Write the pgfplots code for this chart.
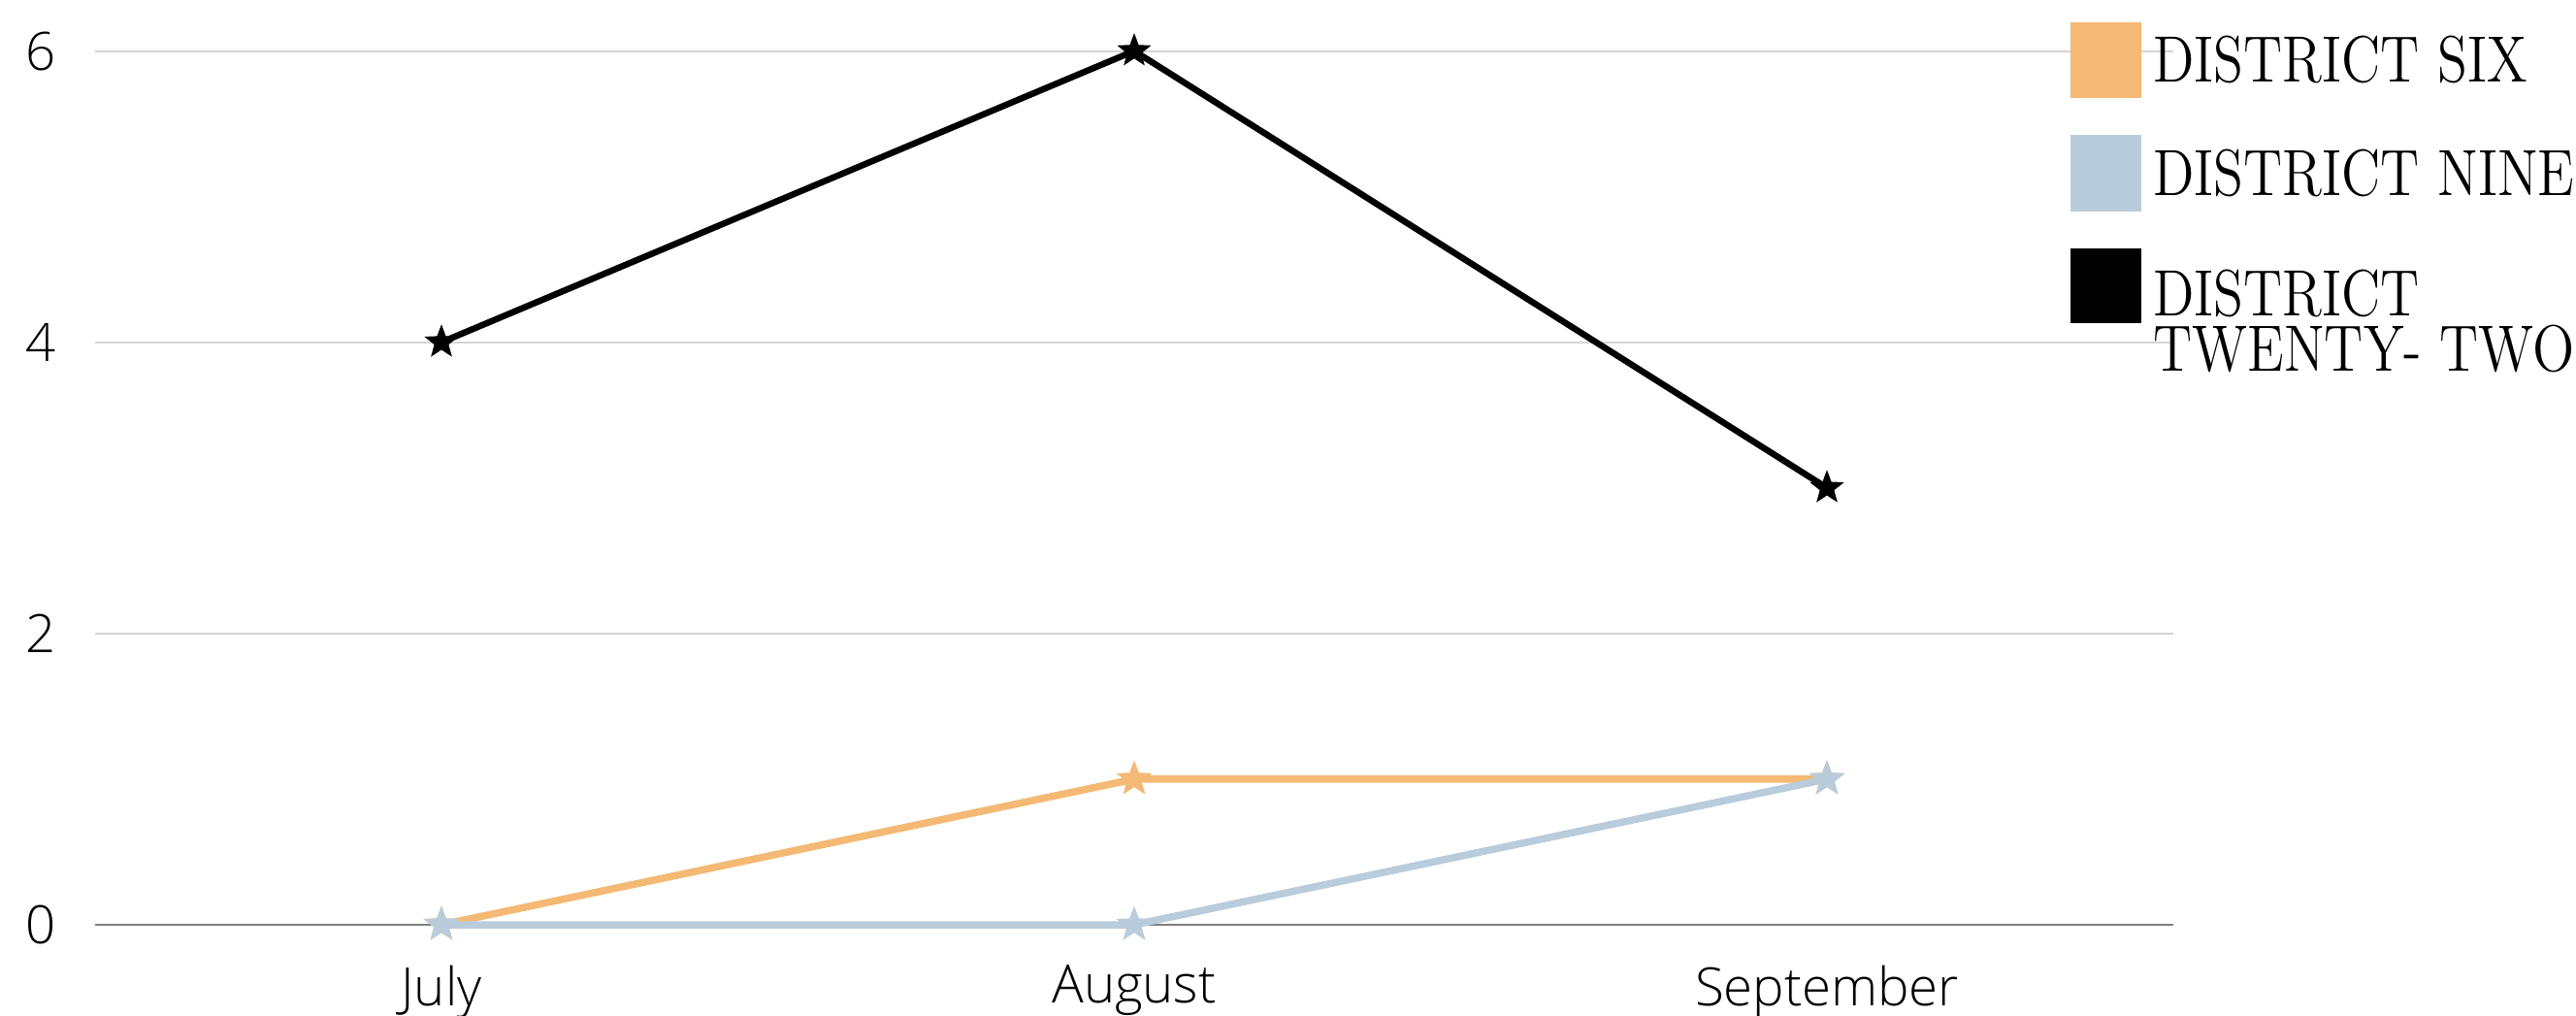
\documentclass[border=0pt]{standalone}
\usepackage{fontspec}
\usepackage{pgfplots}
\pgfplotsset{compat=1.18}
\IfFontExistsTF{Open Sans Light}{\newfontfamily\tickfont{Open Sans Light}}{\newfontfamily\tickfont{Open Sans}}
\newfontfamily\legendfont{Latin Modern Roman}[FakeStretch=0.84]
\definecolor{sixcol}{HTML}{F4B974}
\definecolor{ninecol}{HTML}{B8CCDB}
\definecolor{gridcol}{HTML}{D4D4D4}
\definecolor{zerocol}{HTML}{7F7F7F}

% filled five-pointed star
\pgfdeclareplotmark{fivestar}{%
  \pgfpathmoveto{\pgfqpointpolar{90}{\pgfplotmarksize}}%
  \pgfpathlineto{\pgfqpointpolar{126}{0.42\pgfplotmarksize}}%
  \pgfpathlineto{\pgfqpointpolar{162}{\pgfplotmarksize}}%
  \pgfpathlineto{\pgfqpointpolar{198}{0.42\pgfplotmarksize}}%
  \pgfpathlineto{\pgfqpointpolar{234}{\pgfplotmarksize}}%
  \pgfpathlineto{\pgfqpointpolar{270}{0.42\pgfplotmarksize}}%
  \pgfpathlineto{\pgfqpointpolar{306}{\pgfplotmarksize}}%
  \pgfpathlineto{\pgfqpointpolar{342}{0.42\pgfplotmarksize}}%
  \pgfpathlineto{\pgfqpointpolar{18}{\pgfplotmarksize}}%
  \pgfpathlineto{\pgfqpointpolar{54}{0.42\pgfplotmarksize}}%
  \pgfpathclose
  \pgfusepathqfill
}

\begin{document}
\begin{tikzpicture}
\useasboundingbox (0,0) rectangle (531pt,209.2pt);
\begin{axis}[
  at={(19.6pt,18.6pt)}, anchor=south west,
  scale only axis, width=428.4pt, height=180.1pt,
  xmin=-0.5, xmax=2.5, ymin=0, ymax=6,
  axis x line*=bottom, axis y line*=left,
  x axis line style={zerocol, line width=0.5pt},
  y axis line style={draw=none},
  xtick={0,1,2}, xticklabels={July,August,September},
  ytick={0,2,4,6},
  major tick length=0pt,
  ymajorgrids, grid style={gridcol, line width=0.4pt},
  tick label style={font=\tickfont\fontsize{10.9}{13}\selectfont},
  /pgf/number format/assume math mode=true,
  yticklabel style={xshift=-4.5pt},
  xticklabel style={yshift=-4.8pt},
  clip=false,
  legend cell align=left,
  legend image code/.code={\fill[#1] (0pt,-2.2pt) rectangle (13.2pt,12pt);},
  legend style={at={(0.9505,1.0328)}, anchor=north west,
    draw=none, fill=none, inner sep=0pt, outer sep=0pt,
    nodes={inner sep=0pt, font=\legendfont\fontsize{13.5}{11.6}\selectfont},
    font=\legendfont\fontsize{13.5}{11.6}\selectfont,
    row sep=7.6pt,
    /tikz/every odd column/.append style={column sep=2.4pt},
    /tikz/every even column/.append style={yshift=4.4pt}},
]
\addplot[sixcol, line width=1.5pt, mark=fivestar, mark size=3.9pt]
  coordinates {(0,0) (1,1) (2,1)};
\addlegendentry{DISTRICT SIX}
\addplot[ninecol, line width=1.5pt, mark=fivestar, mark size=3.9pt]
  coordinates {(0,0) (1,0) (2,1)};
\addlegendentry{DISTRICT NINE}
\addplot[black, line width=1.3pt, mark=fivestar, mark size=3.7pt]
  coordinates {(0,4) (1,6) (2,3)};
\addlegendentry{\raisebox{-3.2pt}{\vtop{\baselineskip=11.4pt\lineskiplimit=-\maxdimen
  \hbox{DISTRICT}\hbox{TWENTY- TWO}}}}
\end{axis}
\end{tikzpicture}
\end{document}
